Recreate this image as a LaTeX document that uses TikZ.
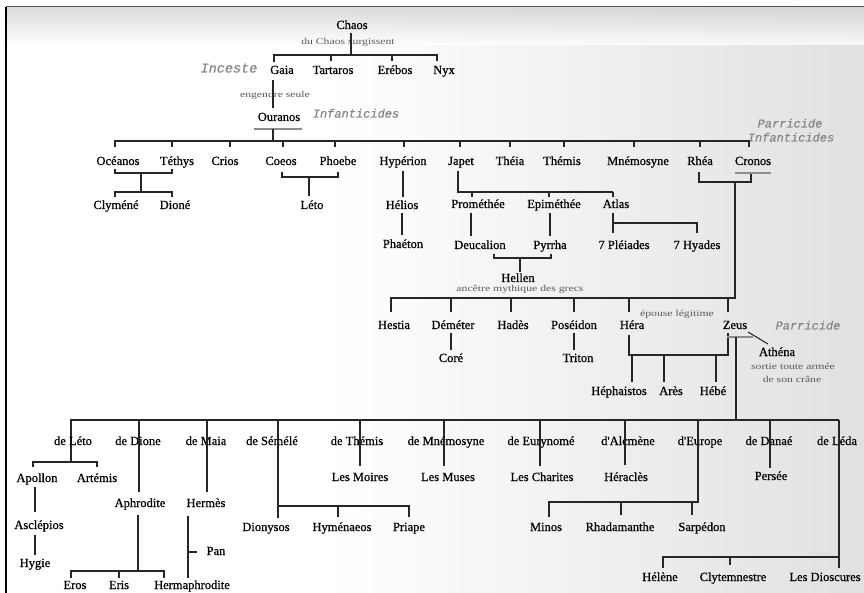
\documentclass[tikz,border=0pt]{standalone}
\usepackage{fontspec}
\setmainfont{Liberation Serif}
\newfontfamily\nmf[FakeBold=0.7]{Liberation Serif}
\newfontfamily\smallf[FakeStretch=1.3]{Liberation Serif}
\newfontfamily\monof[FakeBold=0.4]{Liberation Mono}
\tikzset{
  nm/.style={font=\nmf\fontsize{12.5}{14}\selectfont, inner sep=0pt, text height=8.5pt, text depth=2.5pt},
  sm/.style={font=\smallf\fontsize{9}{10}\selectfont, text=black!65, inner sep=0pt, text height=6pt, text depth=1.5pt},
  crime/.style={font=\monof\itshape\fontsize{12}{13}\selectfont, text=black!48, inner sep=0pt, text height=7pt, text depth=2pt},
  ln/.style={line width=1.1pt, draw=black!85},
  gl/.style={line width=1.5pt, draw=black!45},
}
\begin{document}
\begin{tikzpicture}[x=1pt,y=-1pt]
\useasboundingbox (0,0) rectangle (864,593);
% background
\fill[white] (0,0) rectangle (864,593);
\shade[left color=white, right color=black!12] (330,7) rectangle (864,593);
\shade[top color=black!18, bottom color=white, opacity=0.8] (6,7) rectangle (864,45);
\draw[black!65, line width=1pt] (6,7) -- (864,7);
\draw[black, line width=1.6pt] (6,7) -- (6,593);

% ---------------- top generations ----------------
\node[nm] (chaos) at (352,26) {Chaos};
\node[sm] (surg) at (348,42) {du Chaos surgissent};
\node[nm] (gaia) at (282,71) {Gaia};
\node[nm] (tart) at (333,71) {Tartaros};
\node[nm] (ereb) at (395,71) {Erébos};
\node[nm] (nyx) at (444,71) {Nyx};
\node[crime, font=\monof\itshape\fontsize{13.5}{14}\selectfont] (inceste) at (229,70) {Inceste};
\node[sm] (engendre) at (275,95) {engendre seule};
\node[nm] (ouranos) at (279,118) {Ouranos};
\node[crime] (infant1) at (356,115) {Infanticides};
\node[crime] (parr1) at (790,125) {Parricide};
\node[crime] (infant2) at (791,139) {Infanticides};

\coordinate (chb) at (274,55);
\draw[ln] (351,33) -- (351,55);
\draw[ln] (274,62) -- (chb) -- (437,55) -- (437,61);
\draw[ln] (331,55) -- (331,61);
\draw[ln] (392,55) -- (392,61);
\draw[ln] (273,80) -- (273,108);
\draw[gl] (254,129) -- (302,129);
\draw[ln] (273,129) -- (273,141);

% titans
\draw[ln] (115,147) -- (115,141) -- (749,141) -- (749,147);
\foreach \x in {172,230,283,335,404,460,510,564,634,700}
  \draw[ln] (\x,141) -- (\x,147);
\node[nm] (oceanos) at (118,162) {Océanos};
\node[nm] (tethys) at (177,162) {Téthys};
\node[nm] (crios) at (225,162) {Crios};
\node[nm] (coeos) at (281,162) {Coeos};
\node[nm] (phoebe) at (338,162) {Phoebe};
\node[nm] (hyperion) at (403,162) {Hypérion};
\node[nm] (japet) at (461,162) {Japet};
\node[nm] (theia) at (510,162) {Théia};
\node[nm] (themis) at (562,162) {Thémis};
\node[nm] (mnemosyne) at (638,162) {Mnémosyne};
\node[nm] (rhea) at (700,162) {Rhéa};
\node[nm] (cronos) at (753,162) {Cronos};

% Océanos - Téthys
\draw[ln] (115,169) -- (115,173) -- (172,173) -- (172,169);
\draw[ln] (141,173) -- (141,192);
\draw[ln] (115,197) -- (115,192) -- (172,192) -- (172,197);
\node[nm] (clymene) at (116,206) {Clyméné};
\node[nm] (dione) at (175,206) {Dioné};

% Coeos - Phoebe
\draw[ln] (282,172) -- (282,177) -- (338,177) -- (338,172);
\draw[ln] (309,177) -- (309,196);
\node[nm] (leto) at (312,206) {Léto};

% Hypérion
\draw[ln] (403,171) -- (403,197);
\node[nm] (helios) at (402,206) {Hélios};
\draw[ln] (402,213) -- (402,235);
\node[nm] (phaeton) at (403,245) {Phaéton};

% Japet
\draw[ln] (458,171) -- (458,192) -- (613,192);
\draw[ln] (472,192) -- (472,197);
\draw[ln] (549,192) -- (549,197);
\draw[ln] (613,192) -- (613,197);
\node[nm] (promethee) at (478,205) {Prométhée};
\node[nm] (epimethee) at (554,205) {Epiméthée};
\node[nm] (atlas) at (616,205) {Atlas};
\draw[ln] (471,213) -- (471,236);
\draw[ln] (550,213) -- (550,236);
\node[nm] (deucalion) at (480,246) {Deucalion};
\node[nm] (pyrrha) at (550,246) {Pyrrha};
\draw[ln] (613,213) -- (613,233);
\draw[ln] (613,223) -- (697,223) -- (697,233);
\node[nm] (pleiades) at (624,246) {7 Pléiades};
\node[nm] (hyades) at (697,246) {7 Hyades};
\draw[ln] (494,254) -- (494,258) -- (551,258) -- (551,254);
\draw[ln] (520,258) -- (520,272);
\node[nm] (hellen) at (518,279) {Hellen};
\node[sm] (ancetre) at (520,289) {ancêtre mythique des grecs};

% Rhéa - Cronos
\draw[ln] (699,172) -- (699,182) -- (751,182) -- (751,172);
\draw[gl] (735,173) -- (771,173);
\draw[ln] (735,182) -- (735,298) -- (391,298) -- (391,312);
\foreach \x in {451,511,574,629,728}
  \draw[ln] (\x,298) -- (\x,312);
\node[nm] (hestia) at (394,326) {Hestia};
\node[nm] (demeter) at (453,326) {Déméter};
\node[nm] (hades) at (513,326) {Hadès};
\node[nm] (poseidon) at (574,326) {Poséidon};
\node[nm] (hera) at (632,326) {Héra};
\node[nm] (zeus) at (735,326) {Zeus};
\node[sm] (epouse) at (677,314) {épouse légitime};
\draw[ln] (451,333) -- (451,350);
\node[nm] (core) at (451,359) {Coré};
\draw[ln] (574,333) -- (574,350);
\node[nm] (triton) at (578,359) {Triton};

% Héra - Zeus
\draw[ln] (629,335) -- (629,355) -- (728,355) -- (728,333);
\draw[ln] (632,355) -- (632,382);
\draw[ln] (664,355) -- (664,382);
\draw[ln] (716,355) -- (716,382);
\node[nm] (hephaistos) at (619,392) {Héphaistos};
\node[nm] (ares) at (671,392) {Arès};
\node[nm] (hebe) at (713,392) {Hébé};
\draw[gl] (727,337) -- (753,337);
\draw[ln] (748,332) -- (768,344);
\node[nm] (athena) at (777,353) {Athéna};
\node[sm] (sortie) at (793,367) {sortie toute armée};
\node[sm] (crane) at (792,380) {de son crâne};
\node[crime] (parr2) at (808,327) {Parricide};

% ---------------- children of Zeus ----------------
\draw[ln] (736,337) -- (736,420);
\draw[ln] (71,462) -- (71,420) -- (839,420);
\node[nm] (deleto) at (73,442) {de Léto};
\node[nm] (dedione) at (138,442) {de Dione};
\node[nm] (demaia) at (206,442) {de Maia};
\node[nm] (desemele) at (272,442) {de Sémélé};
\node[nm] (dethemis) at (357,442) {de Thémis};
\node[nm] (demnemo) at (446,442) {de Mnémosyne};
\node[nm] (deeury) at (541,442) {de Eurynomé};
\node[nm] (dalcmene) at (628,442) {d'Alcmène};
\node[nm] (deurope) at (700,442) {d'Europe};
\node[nm] (dedanae) at (769,442) {de Danaé};
\node[nm] (deleda) at (837,442) {de Léda};

% Léto
\draw[ln] (33,467) -- (33,462) -- (97,462) -- (97,467);
\node[nm] (apollon) at (37,479) {Apollon};
\node[nm] (artemis) at (97,479) {Artémis};
\draw[ln] (35,487) -- (35,512);
\node[nm] (asclepios) at (39,526) {Asclépios};
\draw[ln] (35,535) -- (35,555);
\node[nm] (hygie) at (35,564) {Hygie};

% Dione
\draw[ln] (139,420) -- (139,492);
\node[nm] (aphrodite) at (140,504) {Aphrodite};
\draw[ln] (138,515) -- (138,571);
\draw[ln] (71,578) -- (71,571) -- (164,571) -- (164,578);
\draw[ln] (119,571) -- (119,578);
\node[nm] (eros) at (75,586) {Eros};
\node[nm] (eris) at (119,586) {Eris};
\node[nm] (hermaphrodite) at (192,586) {Hermaphrodite};

% Maia
\draw[ln] (207,420) -- (207,492);
\node[nm] (hermes) at (206,504) {Hermès};
\draw[ln] (188,516) -- (188,578);
\draw[ln] (188,552) -- (197,552);
\node[nm] (pan) at (216,552) {Pan};

% Sémélé
\draw[ln] (278,420) -- (278,518);
\draw[ln] (278,506) -- (409,506) -- (409,517);
\draw[ln] (338,506) -- (338,517);
\node[nm] (dionysos) at (266,528) {Dionysos};
\node[nm] (hymenaeos) at (342,528) {Hyménaeos};
\node[nm] (priape) at (409,528) {Priape};

% Thémis, Mnémosyne, Eurynomé, Alcmène
\draw[ln] (360,420) -- (360,466);
\node[nm] (moires) at (360,478) {Les Moires};
\draw[ln] (444,420) -- (444,466);
\node[nm] (muses) at (448,478) {Les Muses};
\draw[ln] (540,420) -- (540,466);
\node[nm] (charites) at (542,478) {Les Charites};
\draw[ln] (625,420) -- (625,465);
\node[nm] (heracles) at (626,478) {Héraclès};

% Europe
\draw[ln] (698,420) -- (698,502) -- (549,502) -- (549,517);
\draw[ln] (621,502) -- (621,515);
\draw[ln] (692,502) -- (692,515);
\node[nm] (minos) at (546,528) {Minos};
\node[nm] (rhadamanthe) at (620,528) {Rhadamanthe};
\node[nm] (sarpedon) at (702,528) {Sarpédon};

% Danaé
\draw[ln] (770,420) -- (770,468);
\node[nm] (persee) at (771,477) {Persée};

% Léda
\draw[ln] (839,420) -- (839,568);
\draw[ln] (663,568) -- (663,557) -- (839,557);
\draw[ln] (730,557) -- (730,565);
\node[nm] (helene) at (660,578) {Hélène};
\node[nm] (clytemnestre) at (733,578) {Clytemnestre};
\node[nm] (dioscures) at (825,578) {Les Dioscures};
\end{tikzpicture}
\end{document}
